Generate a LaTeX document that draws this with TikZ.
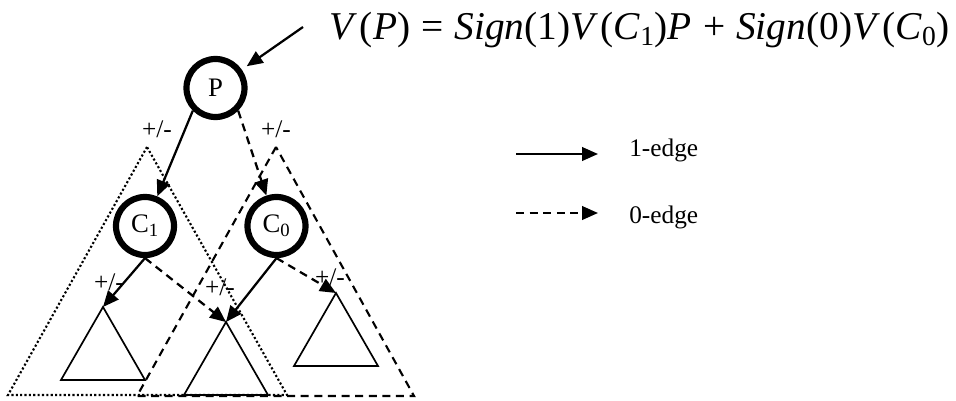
\documentclass[tikz,border=0pt]{standalone}
\usepackage{fontspec}
\setmainfont{Liberation Serif}
\usetikzlibrary{arrows.meta}
\tikzset{
  vnode/.style={circle, draw, line width=4.4pt, fill=white, minimum size=1.45cm, inner sep=0pt, font=\fontsize{19}{21}\selectfont},
  arr/.style={-{Triangle[length=0.4cm, width=0.34cm]}, line width=1.6pt},
  arrz/.style={arr, dash pattern=on 0.2cm off 0.14cm},
  sub/.style={line width=1.2pt, line join=miter},
  sgn/.style={font=\fontsize{18}{20}\selectfont, inner sep=0pt},
}

\begin{document}
\begin{tikzpicture}[x=0.025cm, y=-0.025cm]
  \useasboundingbox (0,0) rectangle (956,401);
  % cones below the two children
  \draw[line width=1.5pt, dash pattern=on 1.5pt off 1.6pt] (147,147) -- (8,395) -- (287,395) -- cycle;
  \draw[line width=1.5pt, dash pattern=on 0.2cm off 0.14cm] (276,147) -- (137,396) -- (414,396) -- cycle;
  % sub-graphs
  \foreach \n/\x/\y in {l/103/307, m/226/322, r/336/293}{
    \coordinate (\n) at (\x,\y);
    \draw[sub] (\n) -- ++(-42,73) -- ++(84,0) -- cycle;
  }
  \node[vnode] (P) at (215.5,88) {P};
  \node[vnode] (C1) at (145,226) {C\textsubscript{1}};
  \node[vnode] (C0) at (276.5,226) {C\textsubscript{0}};
  \draw[arr] (P.south west) -- (C1);
  \draw[arrz] (P.south east) -- (C0);
  \draw[arr] (C1.south) -- (l);
  \draw[arrz] (C1.south) -- (m);
  \draw[arr] (C0.south) -- (m);
  \draw[arrz] (C0.south) -- (r);
  \foreach \x/\y [count=\i] in {157/129, 276/129, 109/282, 220/287, 330/277}
    \node[sgn] (s\i) at (\x,\y) {+/-};
  % value of P
  \node[anchor=base east, inner sep=0pt, font=\fontsize{28}{30}\selectfont] (eq) at (950,39)
    {\textit{V}\kern.06em(\textit{P})\kern.28em=\kern.28em\textit{Sign}(1)\textit{V}\kern.06em(\textit{C}\textsubscript{1})\textit{P}\kern.28em+\kern.28em\textit{Sign}(0)\textit{V}\kern.06em(\textit{C}\textsubscript{0})};
  \coordinate (eqtail) at (303,27);
  \draw[arr, shorten >=0.15cm] (eqtail) -- (P);
  % key
  \coordinate (k1a) at (516,154); \coordinate (k1b) at (598,154);
  \coordinate (k0a) at (516,213); \coordinate (k0b) at (598,213);
  \draw[arr] (k1a) -- (k1b);
  \draw[arrz] (k0a) -- (k0b);
  \node[sgn, anchor=base west] (k1) at (629,156) {1-edge};
  \node[sgn, anchor=base west] (k0) at (629,223) {0-edge};
\end{tikzpicture}
\end{document}
